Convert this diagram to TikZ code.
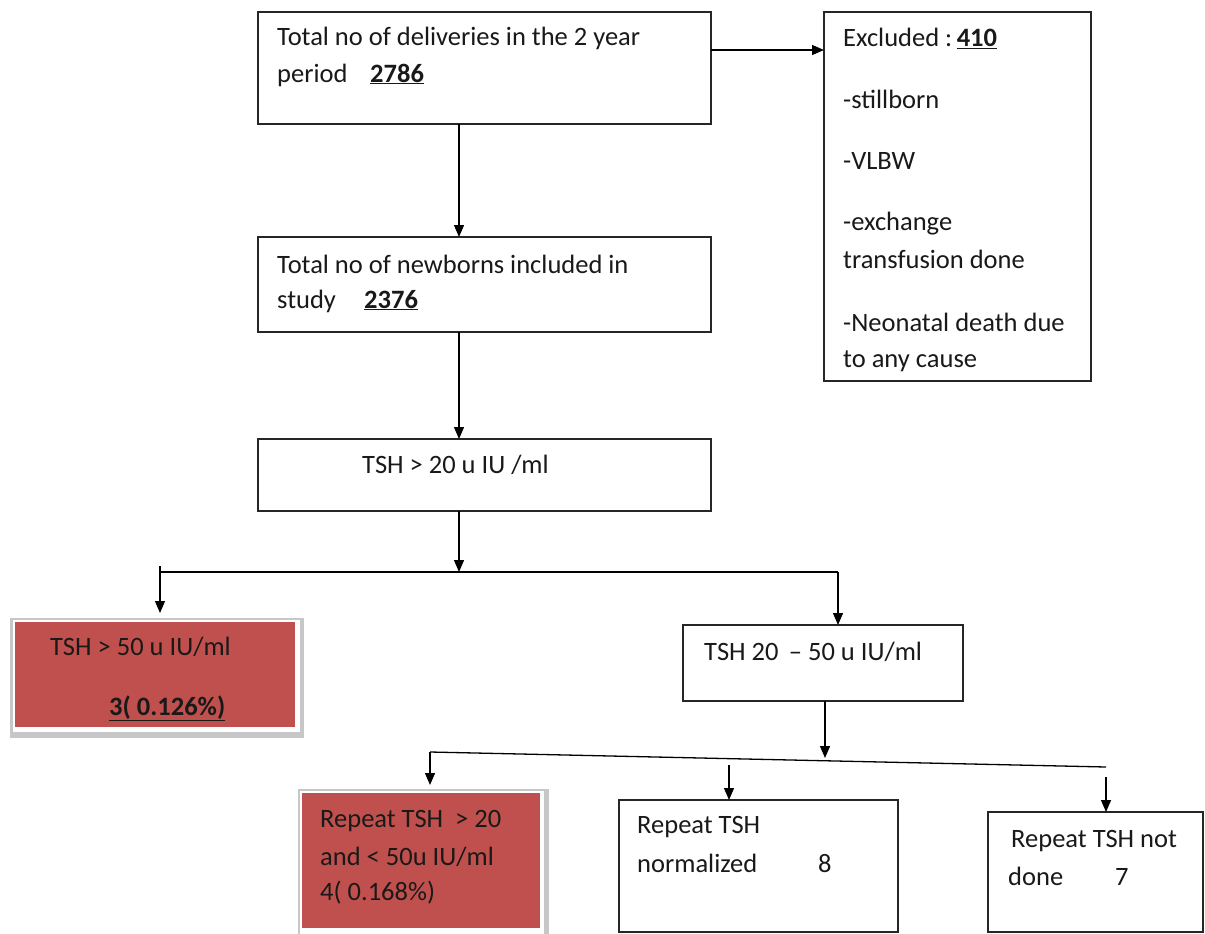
\documentclass[tikz,border=0pt]{standalone}
\usepackage{fontspec}
\setmainfont{Carlito}
\usetikzlibrary{arrows.meta,calc}
\definecolor{xred}{HTML}{C0504D}
\begin{document}
\begin{tikzpicture}[x=1pt,y=-1pt]
\tikzset{
 box/.style={draw=black!85,line width=1.3pt,anchor=north west,inner sep=0pt,outer sep=0pt},
 redbox/.style={anchor=north west,inner sep=0pt,outer sep=0pt,fill=xred},
 shadowbox/.style={anchor=north west,inner sep=0pt,outer sep=0pt,fill=black!22},
 txt/.style={anchor=base west,inner sep=0pt,font=\fontsize{26.5}{32}\selectfont,text=black!90},
 arr/.style={line width=1.3pt,draw=black,-{Triangle[length=12pt,width=10pt]}},
 ln/.style={line width=1.3pt,draw=black}
}
\useasboundingbox (0,0) rectangle (1205,934);
\fill[white] (0,0) rectangle (1205,934);

% boxes
\node[box,minimum width=453pt,minimum height=112pt] (b1) at (258,12) {};
\node[box,minimum width=453pt,minimum height=95pt] (b2) at (258,237) {};
\node[box,minimum width=453pt,minimum height=72pt] (b3) at (258,439) {};
\node[box,minimum width=267pt,minimum height=369pt] (ex) at (824,12) {};
\node[shadowbox,minimum width=294pt,minimum height=120pt] (r1s) at (10,618) {};
\node[fill=white,anchor=north west,inner sep=0pt,minimum width=287pt,minimum height=112pt] (r1w) at (13,620) {};
\node[redbox,minimum width=280pt,minimum height=105pt] (r1) at (15,622) {};
\node[box,minimum width=280pt,minimum height=76pt] (m) at (683,625) {};
\node[shadowbox,minimum width=251pt,minimum height=145pt] (r2s) at (298,789) {};
\node[fill=white,anchor=north west,inner sep=0pt,minimum width=244pt,minimum height=145pt] (r2w) at (300,791) {};
\node[redbox,minimum width=238pt,minimum height=135pt] (r2) at (302,793) {};
\node[box,minimum width=279pt,minimum height=132pt] (n) at (619,800) {};
\node[box,minimum width=215pt,minimum height=120pt] (nd) at (988,812) {};

% junction coordinates
\coordinate (cx) at (459,0);
\coordinate (ey) at (0,50);
\coordinate (split) at (459,572);
\coordinate (sl) at (160,572);
\coordinate (slt) at (160,566);
\coordinate (sr) at (838,572);
\coordinate (mx) at (825,758);
\coordinate (tl) at (430,752);
\coordinate (tr) at (1106,767);
\coordinate (nj) at (729,765);
\coordinate (ndj) at (1106,777);

% connectors
\draw[arr] (b1.east |- ey) -- (ex.west |- ey);
\draw[arr] (b1.south -| cx) -- (b2.north -| cx);
\draw[arr] (b2.south -| cx) -- (b3.north -| cx);
\draw[arr] (b3.south -| cx) -- (split);
\draw[ln] (sl) -- (sr);
\draw[arr,shorten >=9pt] (slt) -- (r1.north -| sl);
\draw[arr] (sr) -- (m.north -| sr);
\draw[arr] (m.south -| mx) -- (mx);
\draw[ln] (tl) -- (tr);
\draw[arr,shorten >=8pt] (tl) -- (r2.north -| tl);
\draw[arr] (nj) -- (n.north -| nj);
\draw[arr] (ndj) -- (nd.north -| ndj);

% texts
\node[txt] (t1a) at (277,46) {Total no of deliveries in the 2 year};
\node[txt] (t1b) at (277,82) {period};
\node[txt] (t1c) at (370,82) {\underline{\textbf{2786}}};
\node[txt] (t2a) at (277,273) {Total no of newborns included in};
\node[txt] (t2b) at (277,308) {study};
\node[txt] (t2c) at (364,308) {\underline{\textbf{2376}}};
\node[txt] (t3) at (362,473) {TSH > 20 u IU /ml};
\node[txt] (e1) at (843,47) {Excluded :\,\underline{\textbf{410}}};
\node[txt] (e2) at (843,108) {-stillborn};
\node[txt] (e3) at (843,169) {-VLBW};
\node[txt] (e4) at (843,230) {-exchange};
\node[txt] (e5) at (843,268) {transfusion done};
\node[txt] (e6) at (843,331) {-Neonatal death due};
\node[txt] (e7) at (843,367) {to any cause};
\node[txt] (r1a) at (50,655) {TSH > 50 u IU/ml};
\node[txt] (r1b) at (109,715) {\underline{\textbf{3( 0.126\%)}}};
\node[txt] (ma) at (704,660) {TSH 20 \,– 50 u IU/ml};
\node[txt] (r2a) at (320,827) {Repeat TSH \ > 20};
\node[txt] (r2b) at (320,865) {and < 50u IU/ml};
\node[txt] (r2c) at (320,900) {4( 0.168\%)};
\node[txt] (na) at (637,833) {Repeat TSH};
\node[txt] (nb) at (637,872) {normalized};
\node[txt] (nc) at (818,872) {8};
\node[txt] (da) at (1011,847) {Repeat TSH not};
\node[txt] (db) at (1008,885) {done};
\node[txt] (dc) at (1115,885) {7};
\end{tikzpicture}
\end{document}
